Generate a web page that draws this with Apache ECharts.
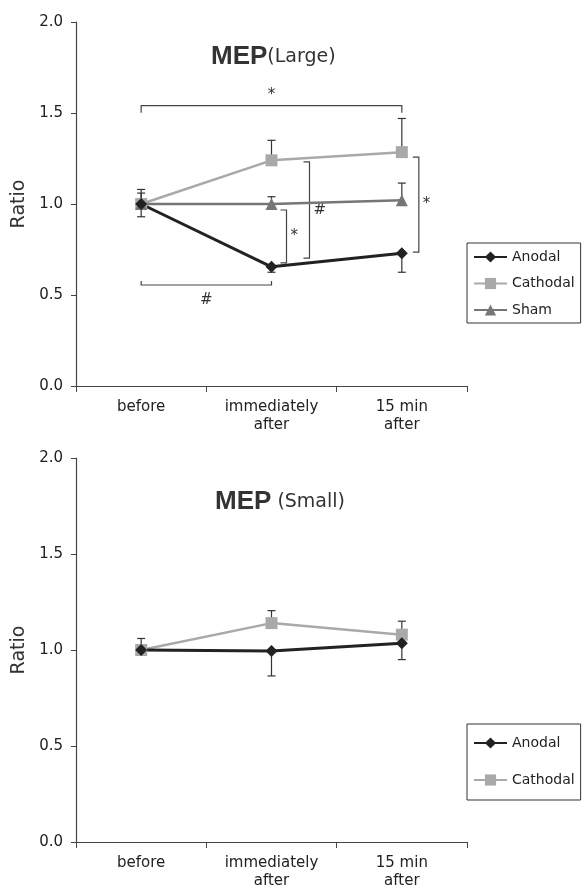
<!DOCTYPE html>
<html>
<head>
<meta charset="utf-8">
<script src="https://cdn.jsdelivr.net/npm/echarts@6/dist/echarts.min.js"></script>
<style>
html, body { margin: 0; padding: 0; background: #fff; }
#chart { width: 582px; height: 892px; }
</style>
</head>
<body>
<div id="chart"></div>
<script>
// categories on the x axis
const categories = ['before', 'immediately\nafter', '15 min\nafter'];

// MEP (Large) - ratio to baseline, with one-sided SE bars
const anodalLarge = [1.0, 0.655, 0.73];
const anodalLargeErr = [0.07, 0.03, 0.105];     // drawn downward
const cathodalLarge = [1.0, 1.24, 1.285];
const cathodalLargeErr = [0.08, 0.11, 0.185];   // drawn upward
const shamLarge = [1.0, 1.0, 1.02];
const shamLargeErr = [0.06, 0.04, 0.095];       // drawn upward

// MEP (Small)
const anodalSmall = [1.0, 0.995, 1.035];
const anodalSmallErr = [0.02, 0.13, 0.085];
const cathodalSmall = [1.0, 1.14, 1.08];
const cathodalSmallErr = [0.06, 0.065, 0.07];

// significance brackets on MEP (Large)
// horizontal: [fromCat, toCat, y]   vertical: [cat, yTop, yBottom]
const hBrackets = [[0, 2, 1.54], [0, 1, 0.555]];
const hMarks = ['*', '#'];
const vBrackets = [[1, 0.967, 0.676], [1, 1.231, 0.703], [2, 1.258, 0.736]];
const vMarks = ['*', '#', '*'];

const FONT = 'DejaVu Sans';
const COLORS = { Anodal: '#222222', Cathodal: '#a9a9a9', Sham: '#767676' };
const SYMBOLS = { Anodal: ['diamond', 12], Cathodal: ['rect', 12], Sham: ['triangle', 12] };

const myChart = echarts.init(document.getElementById('chart'));

function lineSeries(name, values, gi) {
  return {
    name: name,
    type: 'line',
    xAxisIndex: gi,
    yAxisIndex: gi,
    data: values,
    symbol: SYMBOLS[name][0],
    symbolSize: SYMBOLS[name][1],
    lineStyle: { color: COLORS[name], width: name === 'Anodal' ? 3 : 2.5 },
    itemStyle: { color: COLORS[name] },
    z: 3
  };
}

// one-sided error bars via custom series
function errSeries(values, errs, down, gi) {
  return {
    type: 'custom',
    xAxisIndex: gi,
    yAxisIndex: gi,
    z: 2,
    silent: true,
    data: values.map((v, i) => [i, v, down ? errs[i] : 0, down ? 0 : errs[i]]),
    renderItem: (params, api) => {
      const x = api.value(0), v = api.value(1), lo = api.value(2), hi = api.value(3);
      const top = api.coord([x, v + hi]);
      const bot = api.coord([x, v - lo]);
      const half = 4;
      const style = { stroke: '#333', lineWidth: 1.2 };
      const children = [{ type: 'line', shape: { x1: top[0], y1: top[1], x2: bot[0], y2: bot[1] }, style: style }];
      if (hi > 0) children.push({ type: 'line', shape: { x1: top[0] - half, y1: top[1], x2: top[0] + half, y2: top[1] }, style: style });
      if (lo > 0) children.push({ type: 'line', shape: { x1: bot[0] - half, y1: bot[1], x2: bot[0] + half, y2: bot[1] }, style: style });
      return { type: 'group', children: children };
    }
  };
}

const markStyle = (text, x, y, align) => ({
  type: 'text',
  style: { text: text, x: x, y: y, align: align, verticalAlign: 'middle', font: '15px ' + FONT, fill: '#333' }
});

// horizontal bracket: tick length / label offset per bracket
const hLayout = [{ tick: 7, dy: -11 }, { tick: -4, dy: 15 }];
// vertical bracket: x offset from the category centre
const vLayout = [15, 38, 17];

const bracketH = {
  type: 'custom', xAxisIndex: 0, yAxisIndex: 0, silent: true, z: 1,
  data: hBrackets,
  renderItem: (params, api) => {
    const a = api.coord([api.value(0), api.value(2)]);
    const b = api.coord([api.value(1), api.value(2)]);
    const L = hLayout[params.dataIndex];
    return {
      type: 'group',
      children: [
        { type: 'polyline', shape: { points: [[a[0], a[1] + L.tick], a, b, [b[0], b[1] + L.tick]] }, style: { stroke: '#444', lineWidth: 1.2, fill: null } },
        markStyle(hMarks[params.dataIndex], (a[0] + b[0]) / 2, a[1] + L.dy, 'center')
      ]
    };
  }
};

const bracketV = {
  type: 'custom', xAxisIndex: 0, yAxisIndex: 0, silent: true, z: 1,
  data: vBrackets,
  renderItem: (params, api) => {
    const dx = vLayout[params.dataIndex];
    const t = api.coord([api.value(0), api.value(1)]);
    const b = api.coord([api.value(0), api.value(2)]);
    const x = t[0] + dx;
    return {
      type: 'group',
      children: [
        { type: 'polyline', shape: { points: [[x - 6, t[1]], [x, t[1]], [x, b[1]], [x - 6, b[1]]] }, style: { stroke: '#444', lineWidth: 1.2, fill: null } },
        markStyle(vMarks[params.dataIndex], x + 4, (t[1] + b[1]) / 2, 'left')
      ]
    };
  }
};

function xAxis(gi) {
  return {
    type: 'category',
    gridIndex: gi,
    data: categories,
    boundaryGap: true,
    axisLine: { lineStyle: { color: '#444', width: 1.2 } },
    axisTick: { show: true, length: 6, inside: false, lineStyle: { color: '#444' } },
    axisLabel: { color: '#222', fontFamily: FONT, fontSize: 15, margin: 12, lineHeight: 18 }
  };
}

function yAxis(gi) {
  return {
    type: 'value',
    gridIndex: gi,
    min: 0,
    max: 2,
    interval: 0.5,
    name: 'Ratio',
    nameLocation: 'middle',
    nameGap: 46,
    nameTextStyle: { color: '#333', fontFamily: FONT, fontSize: 19 },
    axisLine: { show: true, lineStyle: { color: '#444', width: 1.2 } },
    axisTick: { show: true, length: 5, inside: false, lineStyle: { color: '#444' } },
    splitLine: { show: false },
    axisLabel: { color: '#222', fontFamily: FONT, fontSize: 15, margin: 13, formatter: (v) => v.toFixed(1) }
  };
}

function title(left, top, sub) {
  return {
    text: '{b|MEP}{n|' + sub + '}',
    left: left,
    top: top,
    textStyle: {
      fontWeight: 'normal',
      rich: {
        b: { fontFamily: 'Liberation Sans', fontWeight: 'bold', fontSize: 26, color: '#333', lineHeight: 30 },
        n: { fontFamily: FONT, fontWeight: 'normal', fontSize: 19, color: '#333', lineHeight: 30 }
      }
    }
  };
}

function legend(names, top, gap, pad) {
  return {
    data: names,
    orient: 'vertical',
    left: 467,
    top: top,
    borderColor: '#333',
    borderWidth: 1,
    padding: pad,
    itemWidth: 33,
    itemHeight: 14,
    itemGap: gap,
    selectedMode: false,
    textStyle: { color: '#222', fontFamily: FONT, fontSize: 14 }
  };
}

myChart.setOption({
  backgroundColor: '#fff',
  animation: false,
  title: [title(206, 37, '(Large)'), title(210, 482, ' (Small)')],
  legend: [
    legend(['Anodal', 'Cathodal', 'Sham'], 243, 12.5, [7, 6, 6, 6]),
    legend(['Anodal', 'Cathodal'], 724, 23, [12, 6, 13, 6])
  ],
  grid: [
    { left: 76, top: 22, width: 391, height: 364 },
    { left: 76, top: 458, width: 391, height: 384 }
  ],
  xAxis: [xAxis(0), xAxis(1)],
  yAxis: [yAxis(0), yAxis(1)],
  series: [
    bracketH,
    bracketV,
    errSeries(cathodalLarge, cathodalLargeErr, false, 0),
    errSeries(shamLarge, shamLargeErr, false, 0),
    errSeries(anodalLarge, anodalLargeErr, true, 0),
    lineSeries('Cathodal', cathodalLarge, 0),
    lineSeries('Sham', shamLarge, 0),
    lineSeries('Anodal', anodalLarge, 0),
    errSeries(cathodalSmall, cathodalSmallErr, false, 1),
    errSeries(anodalSmall, anodalSmallErr, true, 1),
    lineSeries('Cathodal', cathodalSmall, 1),
    lineSeries('Anodal', anodalSmall, 1)
  ]
});

window.addEventListener('resize', () => myChart.resize());
</script>
</body>
</html>
